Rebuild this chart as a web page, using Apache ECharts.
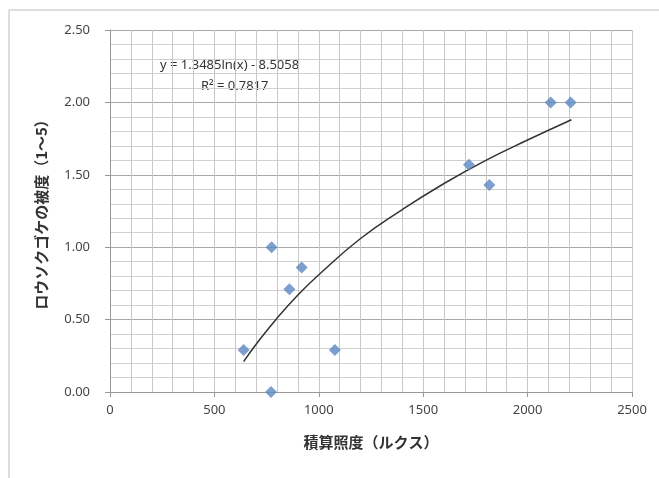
<!DOCTYPE html>
<html>
<head>
<meta charset="utf-8">
<script src="https://cdn.jsdelivr.net/npm/echarts@6/dist/echarts.min.js"></script>
<style>html,body{margin:0;padding:0;background:#fff;}#c{width:659px;height:478px;}</style>
</head>
<body>
<div id="c"></div>
<script>
// Data
const illuminance = [640, 774, 771, 859, 918, 1077, 1719, 1817, 2111, 2206];
const coverage    = [0.29, 1.00, 0.00, 0.71, 0.86, 0.29, 1.57, 1.43, 2.00, 2.00];
// Trendline points
const trendX = [640, 700, 800, 900, 1000, 1200, 1400, 1600, 1800, 2000, 2210];
const trendY = [0.21, 0.33, 0.51, 0.67, 0.81, 1.06, 1.26, 1.44, 1.60, 1.74, 1.88];
const xTicks = ['0', '500', '1000', '1500', '2000', '2500'];
const yTicks = ['0.00', '0.50', '1.00', '1.50', '2.00', '2.50'];
const eqText = 'y = 1.3485ln(x) - 8.5058';
const r2Text = 'R² = 0.7817';
const xName = '積算照度（ルクス）';
const yName = 'ロウソクゴケの被度（1～5）';

const chart = echarts.init(document.getElementById('c'), null, {renderer: 'canvas'});
const lab = {fontFamily: 'Noto Sans', fontSize: 13, color: '#444'};
chart.setOption({
  animation: false,
  backgroundColor: '#fff',
  grid: {left: 110, right: 27, top: 30, bottom: 86},
  xAxis: {
    type: 'value', min: 0, max: 2500, interval: 500,
    name: xName, nameLocation: 'middle', nameGap: 43,
    nameTextStyle: {fontFamily: 'Noto Sans CJK JP', fontWeight: 'bold', fontSize: 15, color: '#333'},
    axisLine: {show: true, lineStyle: {color: '#999', width: 1}},
    axisTick: {show: true, length: 5, lineStyle: {color: '#999'}},
    axisLabel: Object.assign({margin: 12, formatter: function (v) { return xTicks[Math.round(v / 500)]; }}, lab),
    splitLine: {show: true, lineStyle: {color: '#c8c8c8', width: 1}},
    minorTick: {show: false, splitNumber: 5},
    minorSplitLine: {show: true, lineStyle: {color: '#c8c8c8', width: 1}}
  },
  yAxis: {
    type: 'value', min: 0, max: 2.5, interval: 0.5,
    name: yName, nameLocation: 'middle', nameGap: 61, nameRotate: 90,
    nameTextStyle: {fontFamily: 'Noto Sans CJK JP', fontWeight: 'bold', fontSize: 15, color: '#333'},
    axisLine: {show: true, lineStyle: {color: '#999', width: 1}},
    axisTick: {show: true, length: 5, lineStyle: {color: '#999'}},
    axisLabel: Object.assign({margin: 20, formatter: function (v) { return yTicks[Math.round(v / 0.5)]; }}, lab),
    splitLine: {show: true, lineStyle: {color: '#a8a8a8', width: 1}},
    minorTick: {show: false, splitNumber: 5},
    minorSplitLine: {show: true, lineStyle: {color: '#cfcfcf', width: 1}}
  },
  graphic: [
    {type: 'rect', shape: {x: 9, y: 10, width: 720, height: 520}, style: {fill: 'none', stroke: '#bbb', lineWidth: 1}, silent: true, z: -1},
    {type: 'text', left: 160, top: 59, style: {text: eqText, font: '13px "Noto Sans"', fill: '#333'}},
    {type: 'text', left: 201, top: 80, style: {text: r2Text, font: '13px "Noto Sans"', fill: '#333'}}
  ],
  series: [
    {
      type: 'line', data: trendX.map((x, i) => [x, trendY[i]]), smooth: true, showSymbol: false,
      lineStyle: {color: '#333', width: 1.5}, z: 3
    },
    {
      type: 'scatter', data: illuminance.map((x, i) => [x, coverage[i]]),
      symbol: 'diamond', symbolSize: 12, itemStyle: {color: '#5b87c2'}, z: 4
    }
  ]
});
</script>
</body>
</html>
